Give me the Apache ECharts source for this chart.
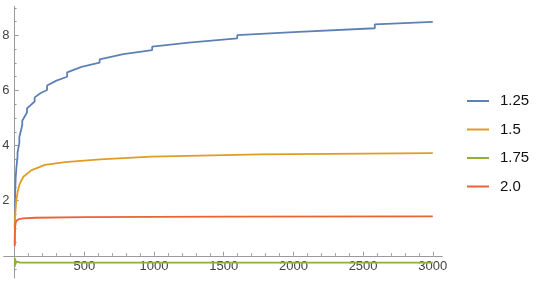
<!DOCTYPE html>
<html>
<head>
<meta charset="utf-8">
<script src="https://cdn.jsdelivr.net/npm/echarts@6/dist/echarts.min.js"></script>
<style>
html,body{margin:0;padding:0;background:#fff;}
#c{width:540px;height:300px;}
</style>
</head>
<body>
<div id="c"></div>
<script>
const seriesNames = ['1.25', '1.5', '1.75', '2.0'];
const seriesColors = ['#5E81B5', '#E19C24', '#8FB032', '#EB6235'];

const data125 = [
  [1, 1.0], [2, 1.6], [3, 2.0], [5, 2.45], [8, 2.85], [13, 3.2],
  [21, 3.6], [21, 3.75], [34, 4.1], [34, 4.3], [55, 4.75], [55, 4.9],
  [89, 5.2], [89, 5.35], [144, 5.6], [144, 5.75], [185, 5.9],
  [233, 6.02], [233, 6.18], [300, 6.36], [377, 6.5], [377, 6.66],
  [480, 6.86], [610, 7.01], [610, 7.13], [780, 7.32], [987, 7.47],
  [987, 7.59], [1250, 7.74], [1597, 7.89], [1597, 8.01], [2000, 8.12],
  [2584, 8.26], [2584, 8.40], [3000, 8.49]
];
const data150 = [
  [1, 0.4], [2, 1.0], [3, 1.3], [5, 1.55], [8, 1.75], [12, 2.0],
  [22, 2.33], [39, 2.64], [63, 2.87], [122, 3.11], [218, 3.30],
  [361, 3.40], [613, 3.50], [983, 3.60], [1760, 3.68], [3000, 3.73]
];
const data175 = [
  [1, -0.4], [2, -0.08], [3, -0.36], [4, -0.14], [5, -0.33], [6, -0.18],
  [8, -0.3], [10, -0.2], [14, -0.27], [20, -0.22], [40, -0.25], [3000, -0.25]
];
const data200 = [
  [1, 0.35], [2, 0.8], [4, 1.05], [8, 1.2], [15, 1.28], [30, 1.33],
  [60, 1.36], [150, 1.38], [500, 1.40], [1500, 1.42], [3000, 1.43]
];
const allData = [data125, data150, data175, data200];

const xTickLabels = [500, 1000, 1500, 2000, 2500, 3000];
const xMinorTicks = [];
for (let v = 100; v <= 3000; v += 100) if (v % 500 !== 0) xMinorTicks.push(v);
const yTickLabels = [2, 4, 6, 8];
const yMinorTicks = [-0.5];
for (let v = 0.5; v <= 9; v += 0.5) if (v % 2 !== 0) yMinorTicks.push(v);

const X_MIN = -76, X_MAX = 3066, Y_MIN = -0.8, Y_MAX = 9.05;
const axisColor = '#9a9a9a';
const labelColor = '#444';
const font = 'Liberation Sans, Arial, sans-serif';
const gridBox = { left: 4, right: 98, top: 6.5, bottom: 22.2 };
const plotWidth = 540 - gridBox.left - gridBox.right;
const plotHeight = 300 - gridBox.top - gridBox.bottom;
// shifts so both axes cross at the origin
const yAxisShift = -(0 - X_MIN) / (X_MAX - X_MIN) * plotWidth;
const xAxisShift = -(0 - Y_MIN) / (Y_MAX - Y_MIN) * plotHeight;

const chart = echarts.init(document.getElementById('c'), null, { renderer: 'canvas' });
chart.setOption({
  animation: false,
  backgroundColor: '#fff',
  grid: [
    Object.assign({ containLabel: false, outerBoundsMode: 'none' }, gridBox),
    Object.assign({ containLabel: false, outerBoundsMode: 'none' }, gridBox)
  ],
  legend: {
    orient: 'vertical',
    left: 467, top: 93,
    itemWidth: 22, itemHeight: 2, itemGap: 12.5,
    icon: 'rect',
    padding: 0,
    textStyle: { fontFamily: font, fontSize: 15, color: '#111', lineHeight: 16, padding: [0, 0, 0, 6] },
    data: seriesNames
  },
  xAxis: [{
    type: 'value', gridIndex: 0, min: X_MIN, max: X_MAX, position: 'bottom', offset: xAxisShift,
    axisLine: { onZero: false, lineStyle: { color: axisColor, width: 1 } },
    axisTick: { show: true, inside: true, length: 4, customValues: xTickLabels, lineStyle: { color: axisColor } },
    axisLabel: { show: true, customValues: xTickLabels, margin: 4, color: labelColor, fontFamily: font, fontSize: 13, formatter: v => String(v) },
    splitLine: { show: false }
  }, {
    type: 'value', gridIndex: 1, min: X_MIN, max: X_MAX, position: 'bottom', offset: xAxisShift,
    axisLine: { onZero: false, lineStyle: { color: axisColor, width: 1 } },
    axisTick: { show: true, inside: true, length: 2.5, customValues: xMinorTicks, lineStyle: { color: axisColor } },
    axisLabel: { show: false },
    splitLine: { show: false }
  }],
  yAxis: [{
    type: 'value', gridIndex: 0, min: Y_MIN, max: Y_MAX, position: 'left', offset: yAxisShift,
    axisLine: { show: true, onZero: false, lineStyle: { color: axisColor, width: 1 } },
    axisTick: { show: true, inside: true, length: 4, customValues: yTickLabels, lineStyle: { color: axisColor } },
    axisLabel: { show: true, customValues: yTickLabels, margin: 5, color: labelColor, fontFamily: font, fontSize: 13 },
    splitLine: { show: false }
  }, {
    type: 'value', gridIndex: 1, min: Y_MIN, max: Y_MAX, position: 'left', offset: yAxisShift,
    axisLine: { show: true, onZero: false, lineStyle: { color: axisColor, width: 1 } },
    axisTick: { show: true, inside: true, length: 2, customValues: yMinorTicks, lineStyle: { color: axisColor } },
    axisLabel: { show: false },
    splitLine: { show: false }
  }],
  series: seriesNames.map((name, i) => ({
    name: name,
    type: 'line',
    xAxisIndex: 0, yAxisIndex: 0,
    data: allData[i],
    showSymbol: false,
    symbol: 'none',
    color: seriesColors[i],
    lineStyle: { color: seriesColors[i], width: 1.8 },
    z: 2 + i
  }))
});
</script>
</body>
</html>
